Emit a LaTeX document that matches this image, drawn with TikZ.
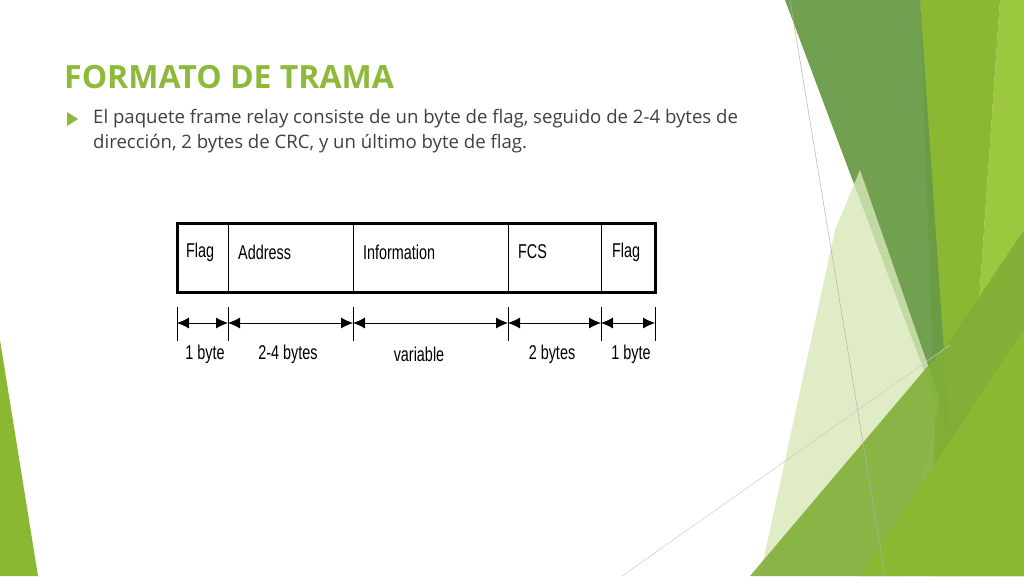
\documentclass[tikz,border=0pt]{standalone}
\usepackage{fontspec}
\setmainfont{Open Sans}
\newfontfamily\arialf{Liberation Sans}
\usetikzlibrary{arrows.meta}
\definecolor{dg}{HTML}{6A9B47}
\definecolor{bg}{HTML}{8AB832}
\definecolor{lg}{HTML}{9BC83F}
\definecolor{pg}{HTML}{D8E8B8}
\definecolor{tg}{HTML}{8DBA3A}
\begin{document}
\begin{tikzpicture}[x=1pt,y=-1pt,
  lbl/.style={font=\arialf\fontsize{20}{20}\selectfont,xscale=0.72,inner sep=0},
  dim/.style={{Latex[length=12pt,width=11pt]}-{Latex[length=12pt,width=11pt]},line width=0.8pt},
  tick/.style={line width=0.8pt}]
\useasboundingbox (0,0) rectangle (1024,576);
\fill[white] (0,0) rectangle (1024,576);
% decoration
\fill[lg] (1000,0) -- (1024,0) -- (1024,576) -- (960,576) -- cycle;
\fill[bg] (920,0) -- (1000,0) -- (960,576) -- (930,576) -- (935,420) -- cycle;
\fill[dg, opacity=0.95] (785,0) -- (920,0) -- (950,440) -- cycle;
\fill[pg, opacity=0.8] (835,230) -- (860,170) -- (940,400) -- (900,576) -- (760,576) -- cycle;
\fill[bg!70!dg, opacity=0.9] (750,576) -- (950,340) -- (1024,230) -- (1024,576) -- cycle;
\fill[bg] (860,576) -- (1024,330) -- (1024,576) -- cycle;
\fill[bg] (0,340) -- (38,576) -- (0,576) -- cycle;
\draw[gray!60, line width=0.5pt] (790,0) -- (885,576);
\draw[gray!40, line width=0.5pt] (622,576) -- (950,345);
% title & text
\node[anchor=west, text=tg, font=\bfseries\fontsize{32}{32}\selectfont, inner sep=0] (title) at (64,77) {FORMATO DE TRAMA};
\fill[tg] (67,112) -- (78,119) -- (67,126) -- cycle;
\node[anchor=north west, align=left, text=black!75, font=\fontsize{18.6}{25}\selectfont, inner sep=0] (body) at (93,109)
 {El paquete frame relay consiste de un byte de flag, seguido de 2-4 bytes de\\dirección, 2 bytes de CRC, y un último byte de flag.};
% frame
\draw[line width=3pt] (177,223) rectangle (655,292);
\foreach \x in {228,353,508,601} \draw[line width=1pt] (\x,223) -- (\x,292);
\node[lbl,anchor=west] (f1) at (186,252) {Flag};
\node[lbl,anchor=west] (ad) at (238,252) {Address};
\node[lbl,anchor=west] (in) at (363,252) {Information};
\node[lbl,anchor=west] (fc) at (518,252) {FCS};
\node[lbl,anchor=west] (f2) at (612,252) {Flag};
\foreach \x [count=\i] in {177,228,353,508,601,655} {
  \coordinate (t\i) at (\x,323);
  \draw[tick] (\x,307) -- (\x,341);}
\draw[dim] (t1) -- (t2);
\draw[dim] (t2) -- (t3);
\draw[dim] (t3) -- (t4);
\draw[dim] (t4) -- (t5);
\draw[dim] (t5) -- (t6);
\node[lbl] (l1) at (205,354) {1 byte};
\node[lbl] (l2) at (288,354) {2-4 bytes};
\node[lbl] (l3) at (419,354) {variable};
\node[lbl] (l4) at (552,354) {2 bytes};
\node[lbl] (l5) at (631,354) {1 byte};
\end{tikzpicture}
\end{document}
